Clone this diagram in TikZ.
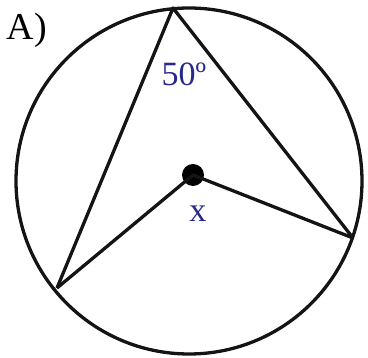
\documentclass[tikz,border=0pt]{standalone}
\usepackage{fontspec}
\setmainfont{Liberation Serif}
\usetikzlibrary{positioning}
\definecolor{labelblue}{RGB}{40,40,140}

\begin{document}
\begin{tikzpicture}[
    x=1pt, y=-1pt,
    chord/.style={draw=black!92, line width=3.3pt, line join=round},
    centre/.style={circle, fill=black, minimum size=22pt, inner sep=0pt},
    anglelabel/.style={text=labelblue, font=\fontsize{34}{34}\selectfont, inner sep=0pt},
    tag/.style={font=\fontsize{38}{38}\selectfont, inner sep=0pt},
]
\useasboundingbox (0,0) rectangle (368,358);

% --- Circle and points on it ---
\draw[chord] (189,181) circle[radius=173pt];
\coordinate (top)   at (173,8);
\coordinate (left)  at (57,288);
\coordinate (right) at (353,238);
\node[centre] (O) at (193,175) {};

% --- Chords and radii ---
\draw[chord] (left) -- (top) -- (right);
\draw[chord] (left) -- (O.center) -- (right);

% --- Labels ---
\node[anglelabel] (a50) at (184,74) {50º};
\node[anglelabel, below=19pt of O, xshift=5pt] (ax) {x};
\node[tag] (qA) at (27,30) {A)};

\end{tikzpicture}
\end{document}
